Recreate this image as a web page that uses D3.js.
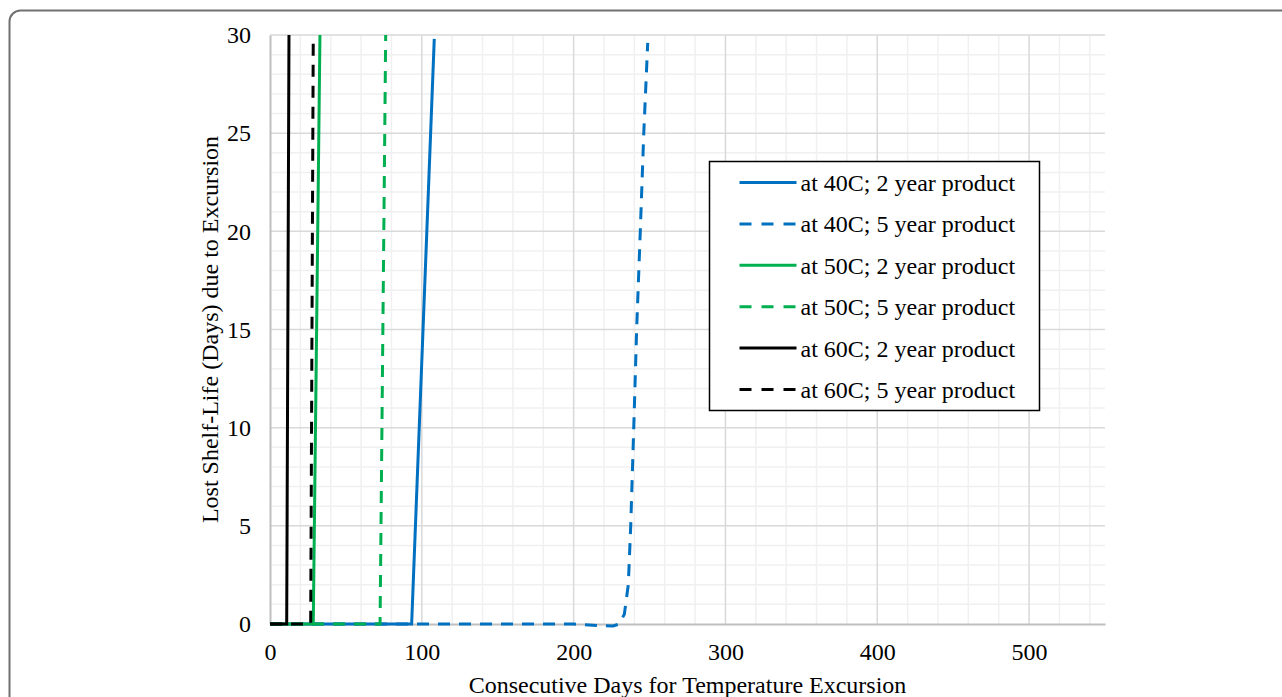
<!DOCTYPE html>
<html>
<head>
<meta charset="utf-8">
<script src="https://cdn.jsdelivr.net/npm/d3@7"></script>
<style>
  body { margin: 0; background: #fff; }
  svg { display: block; }
  text { font-family: "Liberation Serif", "Times New Roman", serif; fill: #000; }
</style>
</head>
<body>
<svg id="chart" width="1282" height="697"></svg>
<script>
const chartSize = { width: 1282, height: 697 };
const margin = { left: 270, top: 35 };
const width = 835;
const height = 589;
const fontSize = 24;

const xTicks = [0, 100, 200, 300, 400, 500];
const yTicks = [0, 5, 10, 15, 20, 25, 30];

const seriesNames = [
  "at 40C; 2 year product",
  "at 40C; 5 year product",
  "at 50C; 2 year product",
  "at 50C; 5 year product",
  "at 60C; 2 year product",
  "at 60C; 5 year product"
];

const days40_2 = [0, 93.3, 108.2];
const lost40_2 = [0, 0, 29.8];
const days40_5 = [0, 200, 217, 226, 230, 233.4, 236, 237.6, 239.6, 241.5, 243.9, 246.2, 248.8];
const lost40_5 = [0, 0, -0.08, -0.1, 0, 0.5, 2, 5, 10, 15, 20, 25, 29.6];
const days50_2 = [0, 28.5, 32.9];
const lost50_2 = [0, 0, 30];
const days50_5 = [0, 72.5, 76.2];
const lost50_5 = [0, 0, 30];
const days60_2 = [0, 11, 12.5];
const lost60_2 = [0, 0, 30];
const days60_5 = [0, 26.8, 28.5];
const lost60_5 = [0, 0, 30];

const seriesColors = ["#0070c0", "#0070c0", "#00b050", "#00b050", "#000000", "#000000"];
const seriesDashed = [false, true, false, true, false, true];

const toPoints = (xs, ys) => xs.map((d, i) => ({ x: d, y: ys[i] }));

const series = [
  toPoints(days40_2, lost40_2),
  toPoints(days40_5, lost40_5),
  toPoints(days50_2, lost50_2),
  toPoints(days50_5, lost50_5),
  toPoints(days60_2, lost60_2),
  toPoints(days60_5, lost60_5)
].map((points, i) => ({
  name: seriesNames[i],
  color: seriesColors[i],
  dashed: seriesDashed[i],
  points
}));

const svg = d3.select("#chart");

// rounded frame running off the page
svg.append("rect")
  .attr("x", 9.5)
  .attr("y", 10.5)
  .attr("width", 1300)
  .attr("height", 720)
  .attr("rx", 11)
  .attr("fill", "none")
  .attr("stroke", "#707070")
  .attr("stroke-width", 2);

const x = d3.scaleLinear().domain([0, 550]).range([0, width]);
const y = d3.scaleLinear().domain([0, 30]).range([height, 0]);

const g = svg.append("g")
  .attr("transform", `translate(${margin.left},${margin.top})`);

// minor grid
const minorX = d3.range(20, 551, 20).filter(v => v % 100 !== 0);
const minorY = d3.range(1, 30, 1).filter(v => v % 5 !== 0);

g.append("g").selectAll("line")
  .data(minorX)
  .join("line")
  .attr("x1", d => x(d)).attr("x2", d => x(d))
  .attr("y1", 0).attr("y2", height)
  .attr("stroke", "#f0f0f0").attr("stroke-width", 1.5);

g.append("g").selectAll("line")
  .data(minorY)
  .join("line")
  .attr("x1", 0).attr("x2", width)
  .attr("y1", d => y(d)).attr("y2", d => y(d))
  .attr("stroke", "#f0f0f0").attr("stroke-width", 1.5);

// major grid
g.append("g").selectAll("line")
  .data(xTicks.slice(1))
  .join("line")
  .attr("x1", d => x(d)).attr("x2", d => x(d))
  .attr("y1", 0).attr("y2", height)
  .attr("stroke", "#d9d9d9").attr("stroke-width", 1.5);

g.append("g").selectAll("line")
  .data(yTicks.slice(1))
  .join("line")
  .attr("x1", 0).attr("x2", width)
  .attr("y1", d => y(d)).attr("y2", d => y(d))
  .attr("stroke", "#d9d9d9").attr("stroke-width", 1.5);

// axes
const xAxis = g.append("g")
  .attr("transform", `translate(0,${height})`)
  .call(d3.axisBottom(x).tickValues(xTicks).tickSize(0).tickPadding(19));
xAxis.select(".domain").attr("stroke", "#bfbfbf").attr("stroke-width", 2);

const yAxis = g.append("g")
  .call(d3.axisLeft(y).tickValues(yTicks).tickSize(0).tickPadding(19));
yAxis.select(".domain").attr("stroke", "#bfbfbf").attr("stroke-width", 2);

svg.selectAll(".tick text")
  .attr("font-family", "Liberation Serif")
  .attr("font-size", fontSize)
  .attr("fill", "#000");
xAxis.selectAll(".tick text").attr("dy", "0.71em");

// series
svg.append("defs").append("clipPath")
  .attr("id", "plot-clip")
  .append("rect")
  .attr("x", 0).attr("y", 0)
  .attr("width", width).attr("height", height + 6);

const line = d3.line()
  .x(d => x(d.x))
  .y(d => y(d.y));

g.append("g")
  .attr("clip-path", "url(#plot-clip)")
  .selectAll("path")
  .data(series)
  .join("path")
  .attr("d", d => line(d.points))
  .attr("fill", "none")
  .attr("stroke", d => d.color)
  .attr("stroke-width", 3)
  .attr("stroke-dasharray", d => (d.dashed ? "12,9" : null));

// axis titles
svg.append("text")
  .attr("x", margin.left + width / 2)
  .attr("y", 693)
  .attr("text-anchor", "middle")
  .attr("font-size", fontSize)
  .text("Consecutive Days for Temperature Excursion");

svg.append("text")
  .attr("transform", `translate(218,${margin.top + height / 2}) rotate(-90)`)
  .attr("text-anchor", "middle")
  .attr("font-size", fontSize)
  .text("Lost Shelf-Life (Days) due to Excursion");

// legend
const legend = svg.append("g").attr("transform", "translate(709.5,161.5)");

legend.append("rect")
  .attr("width", 330)
  .attr("height", 249)
  .attr("fill", "#fff")
  .attr("stroke", "#000")
  .attr("stroke-width", 1.5);

const rows = legend.selectAll("g.row")
  .data(series)
  .join("g")
  .attr("class", "row")
  .attr("transform", (d, i) => `translate(0,${21 + i * 41.4})`);

rows.append("line")
  .attr("x1", 30).attr("x2", 87)
  .attr("stroke", d => d.color)
  .attr("stroke-width", 3)
  .attr("stroke-dasharray", d => (d.dashed ? "12,10" : null));

rows.append("text")
  .attr("x", 91)
  .attr("dy", "0.35em")
  .attr("font-size", fontSize)
  .text(d => d.name);
</script>
</body>
</html>
